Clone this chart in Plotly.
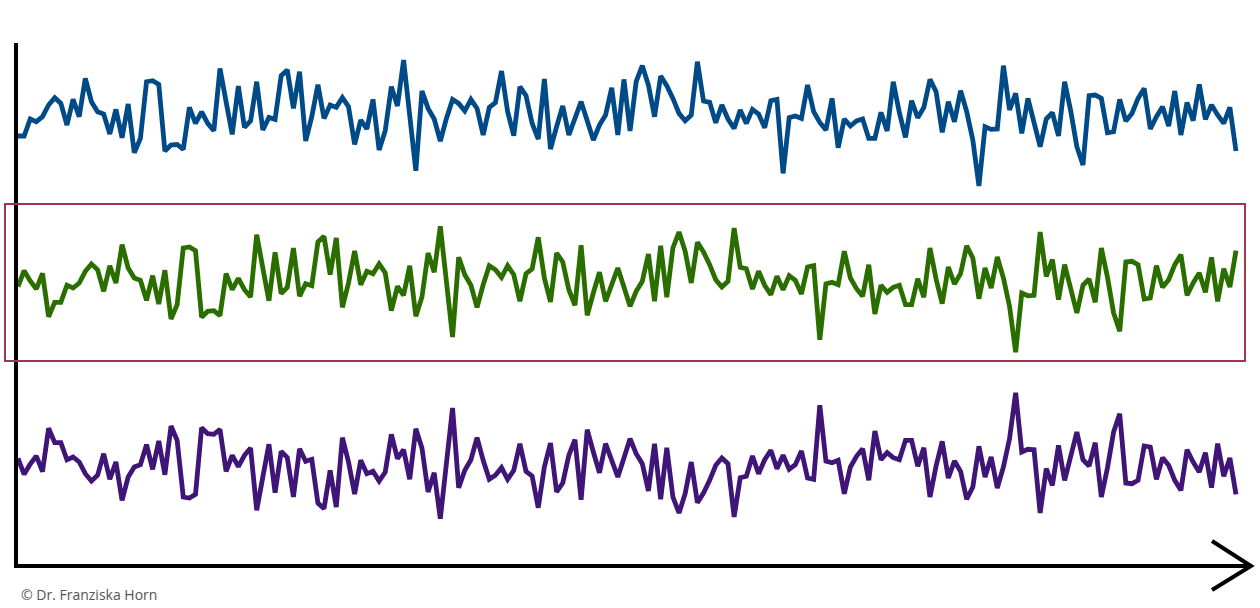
import plotly.graph_objects as go

# Underlying signal; the three panels are windows of it
signal = [
    -0.37, 1.23, 0.2, -0.6, 0.97, -3.37,
    -1.93, -1.93, -0.23, -0.5, 0.0, 1.17, 1.9, 1.33, -0.83, 1.73,
    0.0, 3.83, 1.5, 0.5, 0.27, -1.73, 0.73, -2.1, 1.27, -3.6,
    -2.17, 3.5, 3.6, 3.23, -3.43, -2.83, -2.77, -3.27, 0.93, -0.67,
    0.47, -0.67, -1.4, 4.83, 1.5, -1.77, 3.07, -1.07, -0.43, 3.5,
    -1.33, -0.07, -0.27, 4.1, 4.67, 0.83, 4.5, -2.43, 0.0, 3.2,
    -0.17, 1.17, 0.93, 1.9, 1.0, -2.77, -0.33, -1.23, 1.73, -3.33,
    -1.4, 3.0, 1.07, 5.67, 0.13, -5.4, 2.57, 0.83, -0.23, -2.43,
    -0.17, 1.73, 1.33, 0.57, 1.73, 0.83, -1.83, 0.93, 1.4, 4.57,
    0.5, -1.9, 3.0, 2.1, -0.67, -2.23, 3.77, -3.23, -1.0, 1.07,
    -1.83, -0.17, 1.5, -0.4, -2.33, -0.83, 0.17, 2.9, -1.83, 3.73,
    -1.43, 3.5, 5.1, 3.17, 0.0, 4.07, 3.1, 1.83, 0.33, -0.4,
    0.17, 5.5, 1.57, 1.43, -0.6, 1.17, -0.23, -1.17, 0.67, -0.67,
    0.73, 0.27, -1.1, 1.6, 1.73, -5.67, -0.1, 0.07, -0.17, 3.17,
    0.5, -0.57, -1.33, 1.83, -3.1, -0.23, -0.93, -0.43, -0.23, -2.17,
    -2.17, 0.43, -1.43, 3.5, 0.4, -2.07, 1.6, -0.1, 0.93, 3.73,
    2.5, -1.57, 1.5, -0.5, 2.6, 0.5, -2.33, -6.93, -1.0, -1.27,
    -1.23, 5.1, 0.67, 2.33, -1.67, 1.83, -0.67, -3.0, -0.23, 0.4,
    -1.93, 3.5, 0.57, -3.0, -4.83, 2.1, 2.17, 1.83, -1.6, -1.5,
    1.73, -0.43, 0.33, 1.83, 2.83, -1.23, 0.0, 1.0, -0.93, 2.57,
    -1.83, 1.43, -0.4, 3.23, -0.27, 1.17, 0.17, -0.67, 0.93, -3.43,
]
window = 200
shift = 6
time_steps = list(range(window))

blue_vals = signal[shift:shift + window]
green_vals = signal[0:window]
purple_vals = [-v for v in green_vals]

BLUE_OFFSET = 49.13
GREEN_OFFSET = 32.5
PURPLE_OFFSET = 14.6

W, H = 1260, 608
def px(x):
    return x / W
def py(y):
    return 1 - y / H

fig = go.Figure()
fig.add_trace(go.Scatter(x=time_steps, y=[BLUE_OFFSET + v for v in blue_vals], mode="lines",
                         line=dict(color="#004a87", width=4.8), hoverinfo="skip"))
fig.add_trace(go.Scatter(x=time_steps, y=[GREEN_OFFSET + v for v in green_vals], mode="lines",
                         line=dict(color="#2b6e00", width=4.8), hoverinfo="skip"))
fig.add_trace(go.Scatter(x=time_steps, y=[PURPLE_OFFSET + v for v in purple_vals], mode="lines",
                         line=dict(color="#3f1577", width=4.8), hoverinfo="skip"))

step = (1236 - 18) / (window - 1)
shapes = [
    dict(type="line", xref="paper", yref="paper", x0=px(16), x1=px(16), y0=py(43), y1=py(568),
         line=dict(color="black", width=4)),
    dict(type="line", xref="paper", yref="paper", x0=px(14), x1=px(1250), y0=py(566), y1=py(566),
         line=dict(color="black", width=4)),
    dict(type="path", xref="paper", yref="paper",
         path=f"M {px(1212)},{py(541)} L {px(1251)},{py(566)} L {px(1212)},{py(590)}",
         line=dict(color="black", width=4)),
    dict(type="rect", xref="paper", yref="paper", x0=px(5), x1=px(1245), y0=py(361), y1=py(204),
         line=dict(color="#a3344f", width=2)),
]

fig.update_layout(
    width=W, height=H,
    margin=dict(l=0, r=0, t=0, b=0),
    paper_bgcolor="white", plot_bgcolor="white",
    showlegend=False,
    xaxis=dict(range=[-18 / step, (W - 18) / step], visible=False, fixedrange=True),
    yaxis=dict(range=[0, H / 10], visible=False, fixedrange=True),
    shapes=shapes,
    annotations=[dict(text="© Dr. Franziska Horn", xref="paper", yref="paper",
                      x=px(19), y=py(594), xanchor="left", yanchor="middle",
                      showarrow=False, font=dict(family="Open Sans", size=14, color="#555555"))],
)
fig.write_html("out.html", config={"displayModeBar": False},
               post_script="document.body.style.margin='0';document.body.style.overflow='hidden';")
